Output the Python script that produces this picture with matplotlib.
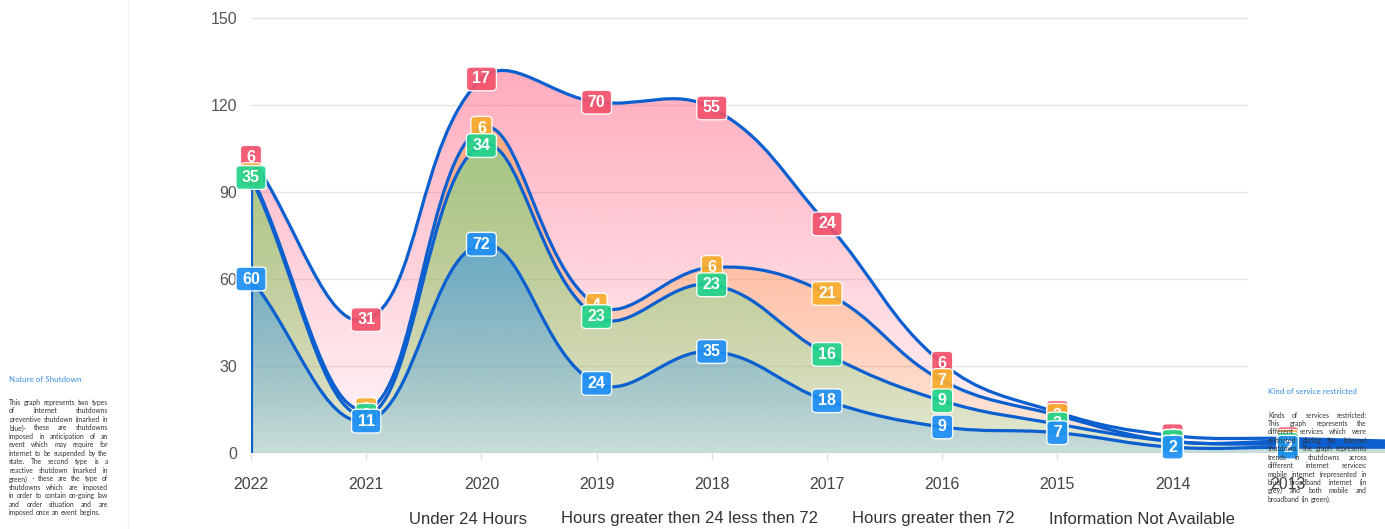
import numpy as np
import matplotlib
matplotlib.use("Agg")
import matplotlib.pyplot as plt
from matplotlib.patches import PathPatch, Rectangle
from matplotlib.path import Path
from matplotlib.lines import Line2D
from matplotlib.font_manager import FontProperties

# Data (stacked series, one value per year)
years = ["2022", "2021", "2020", "2019", "2018", "2017", "2016", "2015", "2014", "2013", "2012"]
under_24 = [60, 11, 72, 24, 35, 18, 9, 7, 2, 2, 2]
from_24_to_72 = [35, 2, 34, 23, 23, 16, 9, 3, 2, 1, 1]
over_72 = [1, 2, 6, 4, 6, 21, 7, 3, 0, 1, 0]
not_available = [6, 31, 17, 70, 55, 24, 6, 1, 2, 1, 1]
series_names = ["Under 24 Hours", "Hours greater then 24 less then 72",
                "Hours greater then 72", "Information Not Available"]
yticks = [0, 30, 60, 90, 120, 150]

left_title = "Nature of Shutdown"
left_lines = [
    "This graph represents two types",
    "of Internet shutdowns",
    "preventive shutdown (marked in",
    "blue)- these are shutdowns",
    "imposed in anticipation of an",
    "event which may require for",
    "internet to be suspended by the",
    "state. The second type is a",
    "reactive shutdown (marked in",
    "green) - these are the type of",
    "shutdowns which are imposed",
    "in order to contain on-going law",
    "and order situation and are",
    "imposed once an event begins.",
]
right_title = "Kind of service restricted"
right_lines = [
    "Kinds of services restricted:",
    "This graph represents the",
    "different services which were",
    "restricted during the Internet",
    "shutdown. The graph represents",
    "trends in shutdowns across",
    "different internet services:",
    "mobile internet (represented in",
    "blue) broadband internet (in",
    "grey) and both mobile and",
    "broadband (in green).",
]

# styles
label_colors = ["#1e8ff5", "#20d38b", "#f9ac2c", "#f4516b"]
fill_colors = [(30, 140, 245), (60, 230, 130), (255, 159, 64), (255, 99, 132)]
fill_alpha = [(0.14, 0.78), (0.14, 0.46), (0.12, 0.52), (0.05, 0.55)]
line_color = "#0b5fcf"

plt.rcParams["font.family"] = ["Liberation Sans", "DejaVu Sans"]

W, H = 1385, 529
fig = plt.figure(figsize=(W / 100, H / 100), dpi=100)
ax = fig.add_axes([251 / W, 76 / H, 1152 / W, 435 / H])
ax.set_xlim(0, len(years) - 1)
ax.set_ylim(0, 150)

series = [under_24, from_24_to_72, over_72, not_available]
stacks = np.cumsum(np.array(series, dtype=float), axis=0)
xs = np.arange(len(years))


def spline_path(x, y, tension=0.4):
    # bezier control points like chart.js (computed in display space)
    pts = ax.transData.transform(np.column_stack([x, y]))
    n = len(pts)
    cprev = np.zeros_like(pts)
    cnext = np.zeros_like(pts)
    bb = ax.bbox
    for i in range(n):
        prev = pts[i - 1] if i > 0 else pts[0]
        nxt = pts[i + 1] if i < n - 1 else pts[-1]
        cur = pts[i]
        d01 = np.hypot(*(cur - prev))
        d12 = np.hypot(*(nxt - cur))
        tot = d01 + d12
        s01 = d01 / tot if tot else 0
        s12 = d12 / tot if tot else 0
        cprev[i] = cur - tension * s01 * (nxt - prev)
        cnext[i] = cur + tension * s12 * (nxt - prev)
    for c in (cprev, cnext):
        c[:, 0] = np.clip(c[:, 0], bb.x0, bb.x1)
        c[:, 1] = np.clip(c[:, 1], bb.y0, bb.y1)
    verts = [pts[0]]
    codes = [Path.MOVETO]
    for i in range(n - 1):
        verts += [cnext[i], cprev[i + 1], pts[i + 1]]
        codes += [Path.CURVE4] * 3
    inv = ax.transData.inverted()
    return inv.transform(np.array(verts)), codes


# fills: drawn top dataset first, each from its line down to 0
yy = np.linspace(150, 0, 400)
for k in [3, 2, 1, 0]:
    verts, codes = spline_path(xs, stacks[k])
    poly = np.vstack([verts, [[xs[-1], 0], [xs[0], 0], [xs[0], stacks[k][0]]]])
    pcodes = codes + [Path.LINETO, Path.LINETO, Path.CLOSEPOLY]
    clip = PathPatch(Path(poly, pcodes), transform=ax.transData)
    a0, a1 = fill_alpha[k]
    img = np.zeros((len(yy), 1, 4))
    img[:, 0, :3] = np.array(fill_colors[k]) / 255
    img[:, 0, 3] = a0 + a1 * yy / 150
    im = ax.imshow(img, extent=[xs[0], xs[-1], 0, 150], aspect="auto",
                   origin="upper", interpolation="bilinear", zorder=1 + 0.1 * (3 - k))
    im.set_clip_path(clip)

    line = PathPatch(Path(verts, codes), fill=False, edgecolor=line_color,
                     lw=2.3, zorder=3, capstyle="round", joinstyle="round")
    ax.add_patch(line)

ax.vlines(xs[0], 0, stacks[-1][0], color=line_color, lw=2.3, zorder=3)
ax.set_xlim(0, len(years) - 1)
ax.set_ylim(0, 150)

# value labels (the last year sits past the right edge of the picture)
for k in range(4):
    for i, v in enumerate(series[k][:-1]):
        ax.text(xs[i], stacks[k][i], str(v), ha="center", va="center",
                color="white", fontsize=11.5, fontweight="bold", zorder=13 - k,
                clip_on=False,
                bbox=dict(boxstyle="round,pad=0.38,rounding_size=0.3", mutation_aspect=0.72,
                          fc=label_colors[k], ec="white", lw=1.0, alpha=0.92))

# axes styling
ax.set_yticks(yticks)
ax.set_xticks(xs[:-1])
ax.set_xticklabels(years[:-1])
ax.tick_params(axis="y", length=0, pad=10, labelsize=11.5, labelcolor="#555555")
ax.tick_params(axis="x", length=5, width=1, color="#dddddd", pad=12,
               labelsize=11.5, labelcolor="#444444")
ax.yaxis.grid(True, color="#e4e4e4", lw=1)
ax.set_axisbelow(True)
for s in ax.spines.values():
    s.set_visible(False)

# the side panel hides the grid under it
ax.add_patch(Rectangle((1248 / W, 0), 1 - 1248 / W, 1, transform=fig.transFigure,
                       fc="white", ec="none", zorder=0.9))

# legend (text only)
handles = [Line2D([], [], alpha=0) for _ in series_names]
fig.legend(handles, series_names, loc="center", bbox_to_anchor=(822 / W, 10 / H),
           ncol=4, frameon=False, handlelength=0, handletextpad=0,
           columnspacing=2.05, fontsize=12, labelcolor="#333333")

# side notes
renderer = fig.canvas.get_renderer()


def text_width(s, fp):
    return renderer.get_text_width_height_descent(s, fp, ismath=False)[0]


def justified(title, lines, x0, x1, ty, y0, dy):
    fig.text(x0 / W, 1 - ty / H, title, fontsize=5.8, color="#3a8fe3",
             family=["Lato", "DejaVu Sans"], va="center", ha="left")
    fp = FontProperties(family=["Lato", "DejaVu Sans"], size=4.9)
    space = text_width("a a", fp) - text_width("aa", fp)
    for n, ln in enumerate(lines):
        words = ln.split()
        widths = [text_width(w, fp) for w in words]
        if n == len(lines) - 1 or len(words) == 1:
            gap = space
        else:
            gap = max(space * 0.6, (x1 - x0 - sum(widths)) / (len(words) - 1))
        x = x0
        y = 1 - (y0 + n * dy) / H
        for w, wd in zip(words, widths):
            fig.text(x / W, y, w, fontproperties=fp, color="#333333",
                     va="center", ha="left")
            x += wd + gap


justified(left_title, left_lines, 9, 108, 379.5, 402.5, 8.49)
justified(right_title, right_lines, 1268, 1367, 391.5, 415, 8.43)

fig.add_artist(Line2D([128 / W, 128 / W], [0, 1], color="#f3f3f3", lw=1))

fig.savefig("out.png", dpi=100)
